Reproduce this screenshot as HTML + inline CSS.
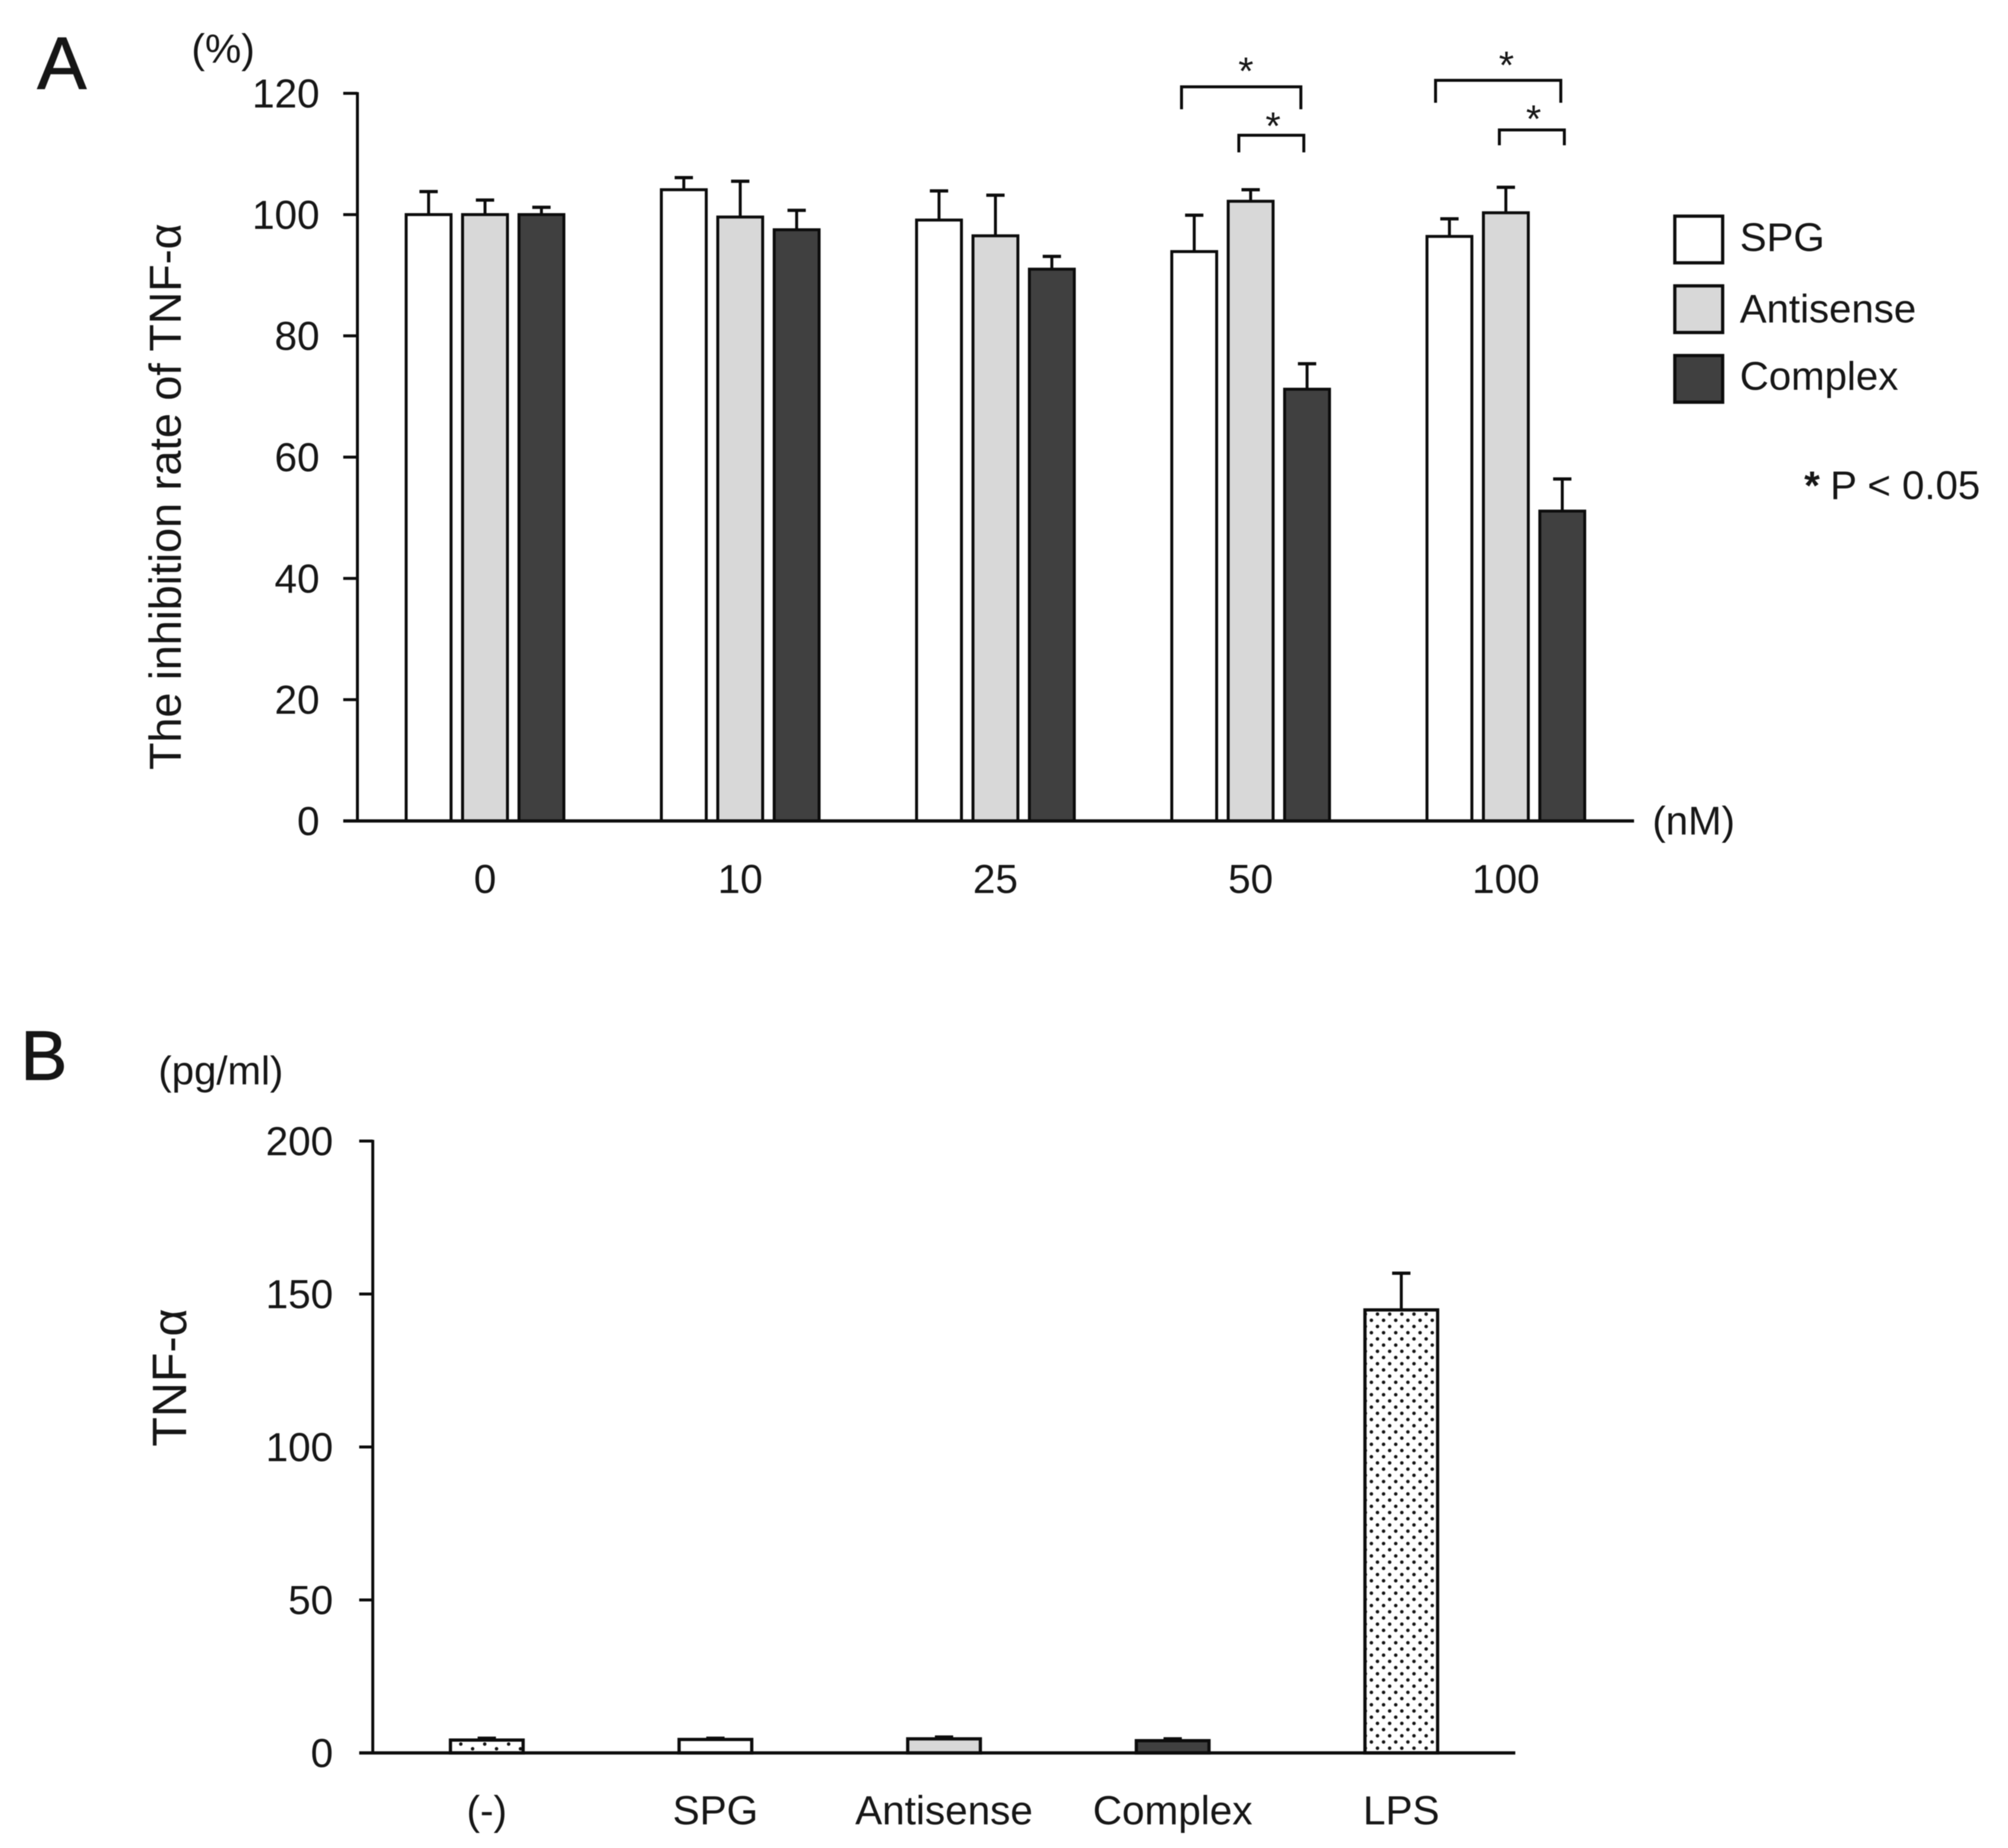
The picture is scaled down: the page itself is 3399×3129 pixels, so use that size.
<!DOCTYPE html>
<html lang="en">
<head>
<meta charset="utf-8">
<title>TNF-α inhibition chart</title>
<style>
html,body{margin:0;padding:0;background:#fff;}
svg{display:block;filter:blur(0.8px);}
text{font-family:"Liberation Sans",Arial,sans-serif;fill:#161616;}
</style>
</head>
<body>
<svg id="fig" xmlns="http://www.w3.org/2000/svg" width="3399" height="3129" viewBox="0 0 3399 3129">
<defs>
<pattern id="dots-dense" patternUnits="userSpaceOnUse" x="2326.55" y="2219.75" width="20.6" height="21">
<circle cx="5.15" cy="5.25" r="3" fill="#141414"/>
<circle cx="15.45" cy="15.75" r="3" fill="#141414"/>
</pattern>
<pattern id="dots-sparse" patternUnits="userSpaceOnUse" x="770" y="2949" width="40.5" height="16">
<circle cx="10" cy="4" r="3" fill="#141414"/>
<circle cx="30" cy="12" r="3" fill="#141414"/>
</pattern>
</defs>

<text x="63" y="150" font-size="125" stroke="#161616" stroke-width="1.5">A</text>
<text x="324" y="106" font-size="69">(%)</text>
<text transform="translate(306 841) rotate(-90)" text-anchor="middle" font-size="76">The inhibition rate of TNF-α</text>
<text x="2797" y="1413" font-size="68">(nM)</text>

<g fill="none" stroke="#0c0c0c" stroke-width="5">
<path d="M2000 185V147H2202V185"/>
<path d="M2097 258V229H2207V258"/>
<path d="M2430 174V136H2642V174"/>
<path d="M2538 246V220H2648V246"/>
</g>
<text x="2109" y="143" text-anchor="middle" font-size="66">*</text>
<text x="2155" y="236" text-anchor="middle" font-size="66">*</text>
<text x="2550" y="133" text-anchor="middle" font-size="66">*</text>
<text x="2596" y="224" text-anchor="middle" font-size="66">*</text>

<text x="3054" y="845" font-size="68"><tspan font-weight="bold">*</tspan><tspan x="3098">P &lt; 0.05</tspan></text>

<text x="35" y="1828" font-size="118" stroke="#161616" stroke-width="1.5">B</text>
<text x="268" y="1836" font-size="68">(pg/ml)</text>
<text transform="translate(315 2332.5) rotate(-90)" text-anchor="middle" font-size="82">TNF-α</text>

<g id="chart-a"></g>
<g id="legend"></g>
<g id="chart-b"></g>
</svg>

<script>
// Panel A data
const doseCategories = ['0', '10', '25', '50', '100'];
const seriesNames = ['SPG', 'Antisense', 'Complex'];
const spgMeans = [100, 104.1, 99.1, 93.9, 96.4];
const spgUpper = [103.8, 106.1, 103.9, 99.9, 99.3];
const antisenseMeans = [100, 99.6, 96.5, 102.2, 100.3];
const antisenseUpper = [102.4, 105.5, 103.2, 104.1, 104.5];
const complexMeans = [100, 97.5, 91.0, 71.2, 51.1];
const complexUpper = [101.2, 100.7, 93.1, 75.4, 56.4];
const yTicksA = [0, 20, 40, 60, 80, 100, 120];

// Panel B data
const treatmentCategories = ['(-)', 'SPG', 'Antisense', 'Complex', 'LPS'];
const treatmentMeans = [4.2, 4.4, 4.6, 4.0, 144.8];
const treatmentUpper = [4.8, 4.8, 5.2, 4.6, 156.8];
const yTicksB = [0, 50, 100, 150, 200];

const NS = 'http://www.w3.org/2000/svg';
const INK = '#0c0c0c';
const FILLS = ['#ffffff', '#d8d8d8', '#404040'];

function make(tag, attrs, parent) {
  const el = document.createElementNS(NS, tag);
  for (const k in attrs) el.setAttribute(k, attrs[k]);
  parent.appendChild(el);
  return el;
}

// Axis functions
const yA = v => 1390 - v * (1232 / 120);
const xA = i => 821 + i * 432;
const yB = v => 2968 - v * (1036 / 200);
const xB = i => 824 + i * 387;

function drawBar(parent, cx, width, top, base, fill, sw) {
  const bar = make('rect', {x: cx - width / 2, y: top, width: width, height: base - top, fill: fill, stroke: INK, 'stroke-width': sw, 'stroke-linejoin': 'miter'}, parent);
  return bar;
}

function drawError(parent, cx, top, upper) {
  const stem = make('line', {x1: cx, x2: cx, y1: top, y2: upper, stroke: INK, 'stroke-width': 5}, parent);
  
  
  const cap = make('line', {x1: cx - 15.5, x2: cx + 15.5, y1: upper, y2: upper, stroke: INK, 'stroke-width': 5.5}, parent);
  
  
}

// Panel A
const gA = document.getElementById('chart-a');
const meansA = [spgMeans, antisenseMeans, complexMeans];
const upperA = [spgUpper, antisenseUpper, complexUpper];
doseCategories.forEach((label, i) => {
  seriesNames.forEach((name, s) => {
    const cx = xA(i) + (s - 1) * 95.5;
    drawError(gA, cx, yA(meansA[s][i]), yA(upperA[s][i]));
    const bar = drawBar(gA, cx, 76, yA(meansA[s][i]), yA(0), FILLS[s], 5);
    
    
  });
  const t = make('text', {x: xA(i), y: 1512, 'text-anchor': 'middle', 'font-size': 68.5}, gA);
  
  
  t.textContent = label;
});
yTicksA.forEach(v => {
  const tick = make('line', {x1: 581, x2: 605, y1: yA(v), y2: yA(v), stroke: INK, 'stroke-width': 5}, gA);
  
  
  const t = make('text', {x: 541, y: yA(v) + 24, 'text-anchor': 'end', 'font-size': 68.5}, gA);
  
  
  t.textContent = v;
});
const yAxisA = make('line', {x1: 605, x2: 605, y1: yA(120) - 2, y2: yA(0), stroke: INK, 'stroke-width': 5}, gA);


const xAxisA = make('line', {x1: 581, x2: 2766, y1: yA(0), y2: yA(0), stroke: INK, 'stroke-width': 5.5}, gA);



// Legend
const gL = document.getElementById('legend');
const legendTops = [366, 484, 602];
const legendBaselines = [425, 546, 660];
seriesNames.forEach((name, s) => {
  const box = make('rect', {x: 2835, y: legendTops[s], width: 81, height: 79, fill: FILLS[s], stroke: INK, 'stroke-width': 5.5}, gL);
  
  
  const t = make('text', {x: 2945, y: legendBaselines[s], 'font-size': 68}, gL);
  
  
  t.textContent = name;
});

// Panel B
const gB = document.getElementById('chart-b');
const fillsB = ['url(#dots-sparse)', '#ffffff', '#d8d8d8', '#404040', 'url(#dots-dense)'];
treatmentCategories.forEach((label, i) => {
  const cx = xB(i);
  drawError(gB, cx, yB(treatmentMeans[i]), yB(treatmentUpper[i]));
  const bar = drawBar(gB, cx, 123, yB(treatmentMeans[i]), yB(0), fillsB[i], 5.5);
  
  
  const t = make('text', {x: cx, y: 3089, 'text-anchor': 'middle', 'font-size': 68.5}, gB);
  
  
  t.textContent = label;
});
yTicksB.forEach(v => {
  const tick = make('line', {x1: 608, x2: 631, y1: yB(v), y2: yB(v), stroke: INK, 'stroke-width': 5}, gB);
  
  
  const t = make('text', {x: 564, y: yB(v) + 24, 'text-anchor': 'end', 'font-size': 68.5}, gB);
  
  
  t.textContent = v;
});
const yAxisB = make('line', {x1: 631, x2: 631, y1: yB(200) - 2, y2: yB(0), stroke: INK, 'stroke-width': 5}, gB);


const xAxisB = make('line', {x1: 608, x2: 2565, y1: yB(0), y2: yB(0), stroke: INK, 'stroke-width': 5.5}, gB);


</script>
</body>
</html>
